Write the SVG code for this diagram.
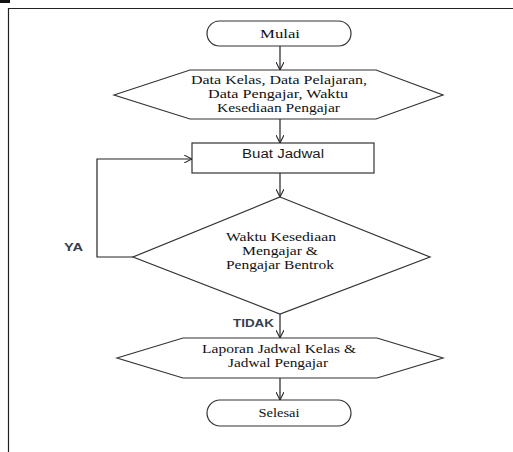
<svg xmlns="http://www.w3.org/2000/svg" width="513" height="452" viewBox="0 0 513 452">
<style>
.s{fill:#fff;stroke:#333;stroke-width:1.2}
.c{fill:none;stroke:#222;stroke-width:1.2}
.t{font-family:"Liberation Serif","Times New Roman",serif;font-size:13px;fill:#111;text-anchor:middle}
.b{font-family:"Liberation Sans",Arial,sans-serif;font-size:12px;fill:#1a1a1a;text-anchor:middle}
.l{font-family:"Liberation Sans",Arial,sans-serif;font-size:10.5px;font-weight:bold;fill:#34404e}
</style>
<defs>
<marker id="a" viewBox="0 0 10 10" refX="10" refY="5" markerWidth="8" markerHeight="8" orient="auto" markerUnits="userSpaceOnUse">
<path d="M0,0 L10,5 L0,10" fill="none" stroke="#222" stroke-width="1.3"/>
</marker>
</defs>
<rect width="513" height="452" fill="#fff"/>
<rect x="0" y="0" width="10" height="3" fill="#111"/>
<g id="frame"><path d="M8.5,452 V8.5 H513" fill="none" stroke="#222" stroke-width="1.2"/></g>
<g id="connectors">
<line class="c" x1="280" y1="46" x2="280" y2="70" marker-end="url(#a)"/>
<line class="c" x1="280" y1="119" x2="280" y2="143" marker-end="url(#a)"/>
<line class="c" x1="280" y1="173" x2="280" y2="197" marker-end="url(#a)"/>
<polyline class="c" points="133,257 97,257 97,159 192,159" marker-end="url(#a)"/>
<line class="c" x1="280" y1="314" x2="280" y2="338" marker-end="url(#a)"/>
<line class="c" x1="280" y1="378" x2="280" y2="400" marker-end="url(#a)"/>
<text class="l" x="64" y="251" textLength="19" lengthAdjust="spacingAndGlyphs">YA</text>
<text class="l" x="233" y="327" textLength="41" lengthAdjust="spacingAndGlyphs">TIDAK</text>
</g>
<g id="mulai">
<rect class="s" x="207" y="21" width="144" height="25" rx="12.5"/>
<text class="t" x="280" y="38" textLength="40" lengthAdjust="spacingAndGlyphs">Mulai</text>
</g>
<g id="input">
<polygon class="s" points="114,95 190,70 376,70 443,95 376,119 190,119"/>
<text class="t" x="279" y="84" textLength="176" lengthAdjust="spacingAndGlyphs">Data Kelas, Data Pelajaran,</text>
<text class="t" x="278" y="98" textLength="140" lengthAdjust="spacingAndGlyphs">Data Pengajar, Waktu</text>
<text class="t" x="278.5" y="112" textLength="123" lengthAdjust="spacingAndGlyphs">Kesediaan Pengajar</text>
</g>
<g id="buat">
<rect class="s" x="192" y="143" width="182" height="30"/>
<text class="b" x="283" y="158" textLength="82" lengthAdjust="spacingAndGlyphs">Buat Jadwal</text>
</g>
<g id="decision">
<polygon class="s" points="280,197 430,257 280,314 133,257"/>
<text class="t" x="281" y="241" textLength="110" lengthAdjust="spacingAndGlyphs">Waktu Kesediaan</text>
<text class="t" x="280" y="255" textLength="76" lengthAdjust="spacingAndGlyphs">Mengajar &amp;</text>
<text class="t" x="280" y="269" textLength="108" lengthAdjust="spacingAndGlyphs">Pengajar Bentrok</text>
</g>
<g id="laporan">
<polygon class="s" points="117,358 183,338 377,338 443,358 377,378 183,378"/>
<text class="t" x="279" y="353" style="font-size:12.5px" textLength="154" lengthAdjust="spacingAndGlyphs">Laporan Jadwal Kelas &amp;</text>
<text class="t" x="278" y="367" style="font-size:12.5px" textLength="100" lengthAdjust="spacingAndGlyphs">Jadwal Pengajar</text>
</g>
<g id="selesai">
<rect class="s" x="207" y="400" width="144" height="26" rx="13"/>
<text class="t" x="279" y="417" textLength="41" lengthAdjust="spacingAndGlyphs">Selesai</text>
</g>
</svg>
